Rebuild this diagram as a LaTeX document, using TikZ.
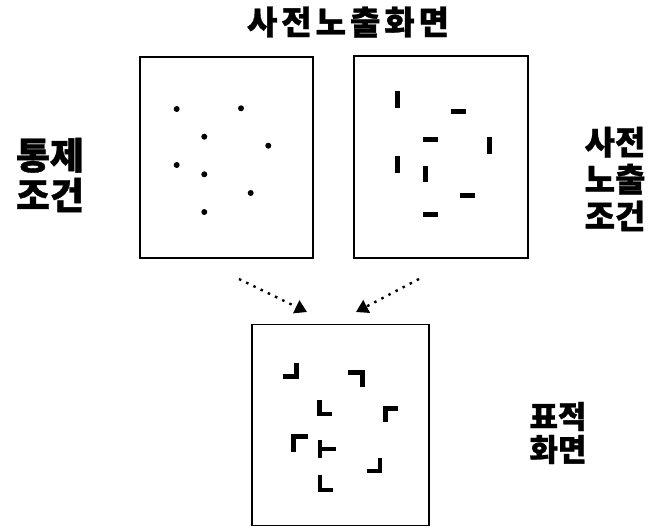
\documentclass[tikz,border=0pt]{standalone}
\usepackage{fontspec}
\newfontfamily\kr{Noto Sans CJK KR}[FakeBold=1]
\usetikzlibrary{arrows.meta}
\begin{document}
\begin{tikzpicture}[x=1pt,y=-1pt,
  panel/.style={draw,line width=1.8pt,inner sep=0pt},
  dotmark/.style={fill,circle,inner sep=0pt,minimum size=6pt},
  bar/.style={line width=5pt},
  corner/.style={line width=4.6pt,miter limit=10},
  lbl/.style={inner sep=0pt,align=center,font=#1},
  feed/.style={line width=2.4pt,dash pattern=on 2.5pt off 5.5pt,
    -{Triangle[width=14pt,length=12pt]}}
]
\useasboundingbox (0,0) rectangle (654,528);
% panels
\node[panel,minimum width=173pt,minimum height=201pt] (ctrl) at (226.5,157.5) {};
\node[panel,minimum width=174pt,minimum height=202pt] (pre) at (441,157) {};
\node[panel,minimum width=177pt,minimum height=201pt] (tgt) at (340.5,425) {};
% title and labels
\node[lbl={\kr\bfseries\fontsize{33}{33}\selectfont\addfontfeature{LetterSpace=12}}] (title) at (348,22) {사전노출화면};
\node[lbl={\kr\bfseries\fontsize{37}{40}\selectfont}] (lctrl) at (50,175) {통제\\조건};
\node[lbl={\kr\bfseries\fontsize{33}{37}\selectfont}] (lpre) at (615,179) {사전\\노출\\조건};
\node[lbl={\kr\bfseries\fontsize{31}{33}\selectfont}] (ltgt) at (558,433) {표적\\화면};
% dots (control condition)
\foreach \p [count=\i] in {(176.7,109),(241,108.3),(204.3,136.7),(268.3,145.7),(176.7,165),(204.3,174.3),(250.7,193),(204.3,212)}
  \node[dotmark] (d\i) at \p {};
% bars (pre-exposure condition)
\draw[bar] (397.3,90.7) -- (397.3,108.3);
\draw[bar] (451,111.7) -- (466,111.7);
\draw[bar] (422.7,139) -- (438.3,139);
\draw[bar] (489,137.3) -- (489,154.3);
\draw[bar] (397.3,155.7) -- (397.3,172.7);
\draw[bar] (425,165.7) -- (425,182.3);
\draw[bar] (460,195.7) -- (475,195.7);
\draw[bar] (423.3,214.3) -- (438.3,214.3);
% corners (target display)
\draw[corner] (283.3,376.7) -- (296.7,376.7) -- (296.7,363);
\draw[corner] (348.3,372.7) -- (362.7,372.7) -- (362.7,387.3);
\draw[corner] (319.3,400) -- (319.3,414) -- (332.3,414);
\draw[corner] (385.7,421.7) -- (385.7,408.3) -- (398.3,408.3);
\draw[corner] (293.3,451.7) -- (293.3,436.7) -- (308.3,436.7);
\draw[corner] (320,440) -- (320,458.3);
\draw[corner] (320,449) -- (335.7,449);
\draw[corner] (366.7,471) -- (380,471) -- (380,458.3);
\draw[corner] (320,475) -- (320,490) -- (333.3,490);
% arrows
\coordinate (s1) at (239,279);
\coordinate (e1) at (307,312);
\coordinate (s2) at (419,279);
\coordinate (e2) at (356,312);
\draw[feed] (s1) -- (e1);
\draw[feed] (s2) -- (e2);
\end{tikzpicture}
\end{document}
